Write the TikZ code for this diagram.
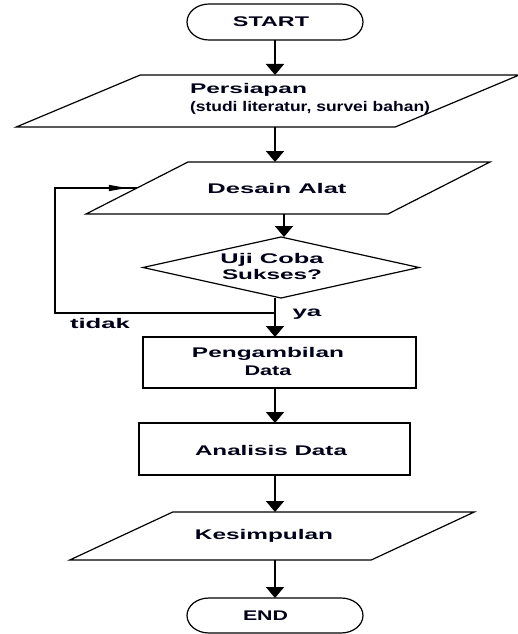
\documentclass[tikz,border=0pt]{standalone}
\usepackage{fontspec}
\setmainfont{Liberation Sans}
\usepackage{graphicx}
\usetikzlibrary{arrows.meta,decorations.markings}
\newcommand\fitw[2]{\resizebox{#1pt}{\height}{#2}}
\begin{document}
\begin{tikzpicture}[x=1pt,y=1pt,
  shp/.style={inner sep=0pt,outer sep=0pt},
  border/.style={line width=1.2pt},
  txt/.style={inner sep=0pt,outer sep=0pt,font=\fontsize{14}{18}\selectfont\bfseries,text=black!90!blue},
  conn/.style={line width=1.8pt,-{Triangle[width=18pt,length=11pt]}},
  fb/.style={line width=1.4pt}]
\useasboundingbox (0,0) rectangle (517,-634);

% START
\node[shp,minimum width=176pt,minimum height=36pt] (start) at (275,-22) {};
\draw[border] ([xshift=22pt]start.north west) -- ([xshift=-22pt]start.north east)
  arc[start angle=90,end angle=-90,x radius=22pt,y radius=18pt]
  -- ([xshift=22pt]start.south west)
  arc[start angle=270,end angle=90,x radius=22pt,y radius=18pt] -- cycle;
\node[txt] (starttxt) at (271,-22) {\fitw{76}{START}};

% Persiapan
\node[shp,minimum width=379pt,minimum height=52pt] (persiapan) at (267.75,-101) {};
\draw[border] ([xshift=62pt]persiapan.north west) -- ([xshift=62pt]persiapan.north east)
  -- ([xshift=-62pt]persiapan.south east) -- ([xshift=-62pt]persiapan.south west) -- cycle;
\node[txt,anchor=west,align=left] (persiapantxt) at (190,-99)
  {\fitw{117}{Persiapan}\\\fitw{240}{(studi literatur, survei bahan)}};

% Desain Alat
\node[shp,minimum width=302pt,minimum height=52pt] (desain) at (288,-188) {};
\draw[border] ([xshift=51pt]desain.north west) -- ([xshift=51pt]desain.north east)
  -- ([xshift=-51pt]desain.south east) -- ([xshift=-51pt]desain.south west) -- cycle;
\node[txt] (desaintxt) at (277,-188) {\fitw{139}{Desain Alat}};

% Uji Coba diamond
\node[shp,minimum width=276pt,minimum height=61pt] (uji) at (281,-267.5) {};
\draw[border] (uji.north) -- (uji.east) -- (uji.south) -- (uji.west) -- cycle;
\node[txt,align=center] (ujitxt) at (272,-266)
  {\fitw{103}{Uji Coba}\\[-2pt]\fitw{100}{Sukses?}};

% Pengambilan Data
\node[shp,draw,border,minimum width=273pt,minimum height=51pt] (ambil) at (279.5,-362.5) {};
\node[txt,align=center] (ambiltxt) at (268,-361.5)
  {\fitw{152}{Pengambilan}\\\fitw{47}{Data}};

% Analisis Data
\node[shp,draw,border,minimum width=271pt,minimum height=52pt] (analisis) at (274.5,-449) {};
\node[txt] (analisistxt) at (271,-450) {\fitw{152}{Analisis Data}};

% Kesimpulan
\node[shp,minimum width=301.5pt,minimum height=48pt] (kesimpulan) at (272,-536) {};
\draw[border] ([xshift=51.5pt]kesimpulan.north west) -- ([xshift=51.5pt]kesimpulan.north east)
  -- ([xshift=-51.5pt]kesimpulan.south east) -- ([xshift=-51.5pt]kesimpulan.south west) -- cycle;
\node[txt] (kesimpulantxt) at (264,-536) {\fitw{138}{Kesimpulan}};

% END
\node[shp,minimum width=176pt,minimum height=35pt] (end) at (275,-615.5) {};
\draw[border] ([xshift=22pt]end.north west) -- ([xshift=-22pt]end.north east)
  arc[start angle=90,end angle=-90,x radius=22pt,y radius=17.5pt]
  -- ([xshift=22pt]end.south west)
  arc[start angle=270,end angle=90,x radius=22pt,y radius=17.5pt] -- cycle;
\node[txt] (endtxt) at (265.5,-616) {\fitw{45}{END}};

% connectors
\draw[conn] (start.south) -- (start.south |- persiapan.north);
\draw[conn] (start.south |- persiapan.south) -- (start.south |- desain.north);
\draw[conn] (284,0 |- desain.south) -- (284,0 |- uji.north);
\coordinate (j) at (275,-313);
\coordinate (fb1) at (55,-313);
\coordinate (fb2) at (55,-188);
\draw[conn] (start.south |- uji.south) -- (start.south |- ambil.north);
\draw[fb,postaction={decorate},decoration={markings,
   mark=at position 0.976 with {\arrow{Triangle[width=6pt,length=18pt]}}}]
  (j) -- (fb1) -- (fb2) -- (desain.west);
\draw[conn] (start.south |- ambil.south) -- (start.south |- analisis.north);
\draw[conn] (start.south |- analisis.south) -- (start.south |- kesimpulan.north);
\draw[conn] (start.south |- kesimpulan.south) -- (end.north);

% labels
\node[txt] (ya) at (307,-314) {\fitw{29}{ya}};
\node[txt] (tidak) at (100,-323) {\fitw{60}{tidak}};
\end{tikzpicture}
\end{document}
